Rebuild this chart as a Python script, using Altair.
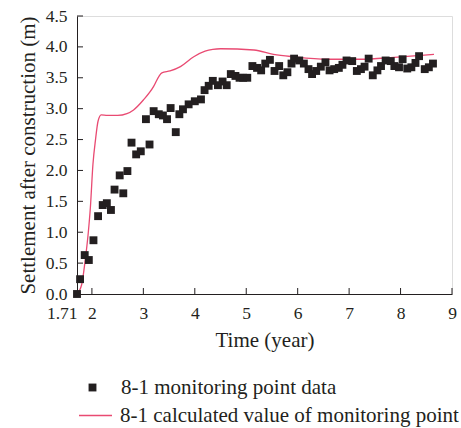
import altair as alt
import pandas as pd

# ---- data ----
pt_x = [1.71, 1.77, 1.86, 1.94, 2.03, 2.12, 2.21, 2.29, 2.37, 2.44,
        2.54, 2.61, 2.69, 2.77, 2.86, 2.95, 3.05, 3.12, 3.20, 3.30,
        3.38, 3.46, 3.53, 3.63, 3.70, 3.77, 3.88, 4.00, 4.12, 4.19,
        4.27, 4.35, 4.45, 4.54, 4.62, 4.70, 4.79, 4.87, 4.94, 5.02,
        5.12, 5.21, 5.29, 5.37, 5.46, 5.55, 5.64, 5.72, 5.80, 5.88,
        5.93, 6.03, 6.12, 6.21, 6.28, 6.36, 6.45, 6.54, 6.62, 6.71,
        6.80, 6.87, 6.95, 7.06, 7.15, 7.23, 7.30, 7.38, 7.46, 7.55,
        7.62, 7.71, 7.81, 7.88, 7.97, 8.04, 8.13, 8.21, 8.29, 8.36,
        8.47, 8.55, 8.63]
pt_y = [0.00, 0.24, 0.63, 0.55, 0.87, 1.26, 1.44, 1.47, 1.36, 1.69,
        1.92, 1.63, 1.99, 2.45, 2.26, 2.31, 2.83, 2.42, 2.96, 2.91,
        2.89, 2.83, 3.01, 2.62, 2.91, 2.99, 3.07, 3.12, 3.15, 3.30,
        3.37, 3.45, 3.38, 3.44, 3.38, 3.56, 3.53, 3.50, 3.50, 3.50,
        3.69, 3.66, 3.62, 3.73, 3.79, 3.61, 3.69, 3.54, 3.59, 3.73,
        3.81, 3.78, 3.73, 3.64, 3.56, 3.61, 3.68, 3.75, 3.62, 3.64,
        3.66, 3.71, 3.78, 3.77, 3.61, 3.64, 3.68, 3.81, 3.54, 3.62,
        3.69, 3.78, 3.77, 3.69, 3.67, 3.80, 3.65, 3.67, 3.74, 3.85,
        3.64, 3.67, 3.73]

line_x = [1.71, 1.80, 1.87, 1.93, 1.97, 2.02, 2.07, 2.12, 2.18, 2.30,
          2.50, 2.68, 2.81, 3.00, 3.20, 3.30, 3.36, 3.52, 3.72, 3.98,
          4.20, 4.35, 4.50, 5.15, 5.53, 5.92, 6.57, 7.22, 7.87, 8.65]
line_y = [0.00, 0.15, 0.55, 1.00, 1.40, 2.10, 2.50, 2.80, 2.90, 2.89,
          2.89, 2.92, 2.98, 3.14, 3.36, 3.52, 3.58, 3.61, 3.68, 3.84,
          3.93, 3.96, 3.97, 3.95, 3.88, 3.84, 3.80, 3.80, 3.83, 3.88]

x_ticks = [1.71, 2, 3, 4, 5, 6, 7, 8, 9]
y_ticks = [0.0, 0.5, 1.0, 1.5, 2.0, 2.5, 3.0, 3.5, 4.0, 4.5]

pt_name = "8-1 monitoring point data"
ln_name = "8-1 calculated value of monitoring point"

# ---- styling ----
W, H = 375, 278
FONT = "Liberation Serif"
FS = 17.5
TFS = 21
LFS = 21
DARK = "#231f20"
PINK = "#e94a72"
TICK = 6

pts = pd.DataFrame({"t": pt_x, "s": pt_y, "series": pt_name})
ln = pd.DataFrame({"t": line_x, "s": line_y, "calc": ln_name})
xt = pd.DataFrame({"t": [v for v in x_ticks if v != 1.71]})
yt = pd.DataFrame({"s": [v for v in y_ticks if v != 0]})

xs = alt.Scale(domain=[1.71, 9], nice=False, zero=False)
ys = alt.Scale(domain=[0, 4.5], nice=False, zero=True)

x_axis = alt.Axis(
    values=x_ticks, title="Time (year)",
    labelExpr="datum.value < 1.8 ? '1.71' : format(datum.value, 'd')",
    ticks=False, grid=False, domainColor=DARK, domainWidth=1,
    labelFont=FONT, labelFontSize=FS, labelColor=DARK, labelPadding=10,
    labelOverlap=False,
    labelAlign={"condition": {"test": "datum.value < 1.8", "value": "right"}, "value": "center"},
    labelFlush=False,
    titleFont=FONT, titleFontSize=TFS, titleFontWeight="normal", titleColor=DARK,
    titlePadding=8,
)
y_axis = alt.Axis(
    values=y_ticks, title="Settlement after construction (m)",
    labelExpr="format(datum.value, '.1f')",
    ticks=False, grid=False, domainColor=DARK, domainWidth=1,
    labelFont=FONT, labelFontSize=FS, labelColor=DARK, labelPadding=10,
    labelOverlap=False, labelFlush=False,
    titleFont=FONT, titleFontSize=TFS, titleFontWeight="normal", titleColor=DARK,
    titlePadding=7,
)

X = alt.X("t:Q", scale=xs, axis=x_axis)
Y = alt.Y("s:Q", scale=ys, axis=y_axis)

points = alt.Chart(pts).mark_point(filled=True, color=DARK, opacity=1, size=62).encode(
    x=X, y=Y,
    shape=alt.Shape("series:N", scale=alt.Scale(range=["square"]),
                    legend=alt.Legend(orient="none", legendX=5, legendY=361, title=None,
                                      labelFont=FONT, labelFontSize=LFS, labelColor=DARK,
                                      labelLimit=600,
                                      symbolSize=62, symbolFillColor=DARK, symbolStrokeColor=DARK,
                                      labelOffset=18)),
)

line = alt.Chart(ln).mark_line(strokeWidth=1.3, interpolate="monotone").encode(
    x=X, y=Y,
    color=alt.Color("calc:N", scale=alt.Scale(range=[PINK]),
                    legend=alt.Legend(orient="none", legendX=1, legendY=382, title=None,
                                      labelFont=FONT, labelFontSize=LFS, labelColor=DARK,
                                      labelLimit=600,
                                      symbolType="stroke", symbolSize=1089,
                                      symbolStrokeWidth=1.3, labelOffset=7)),
)

xtick_layer = alt.Chart(xt).mark_rule(color=DARK, strokeWidth=1).encode(
    x=X, y=alt.value(H), y2=alt.value(H - TICK)
)
ytick_layer = alt.Chart(yt).mark_rule(color=DARK, strokeWidth=1).encode(
    y=Y, x=alt.value(0), x2=alt.value(TICK)
)

chart = alt.layer(line, points, xtick_layer, ytick_layer).properties(
    width=W, height=H,
    autosize=alt.AutoSizeParams(type="none"),
    padding={"left": 77, "top": 16, "right": 9, "bottom": 134},
).configure_view(stroke=None).configure(background="white").configure_axis(
    labelFont=FONT, titleFont=FONT
).configure_legend(labelFont=FONT)

chart.save("out.html", embed_options={"renderer": "svg", "actions": False})
